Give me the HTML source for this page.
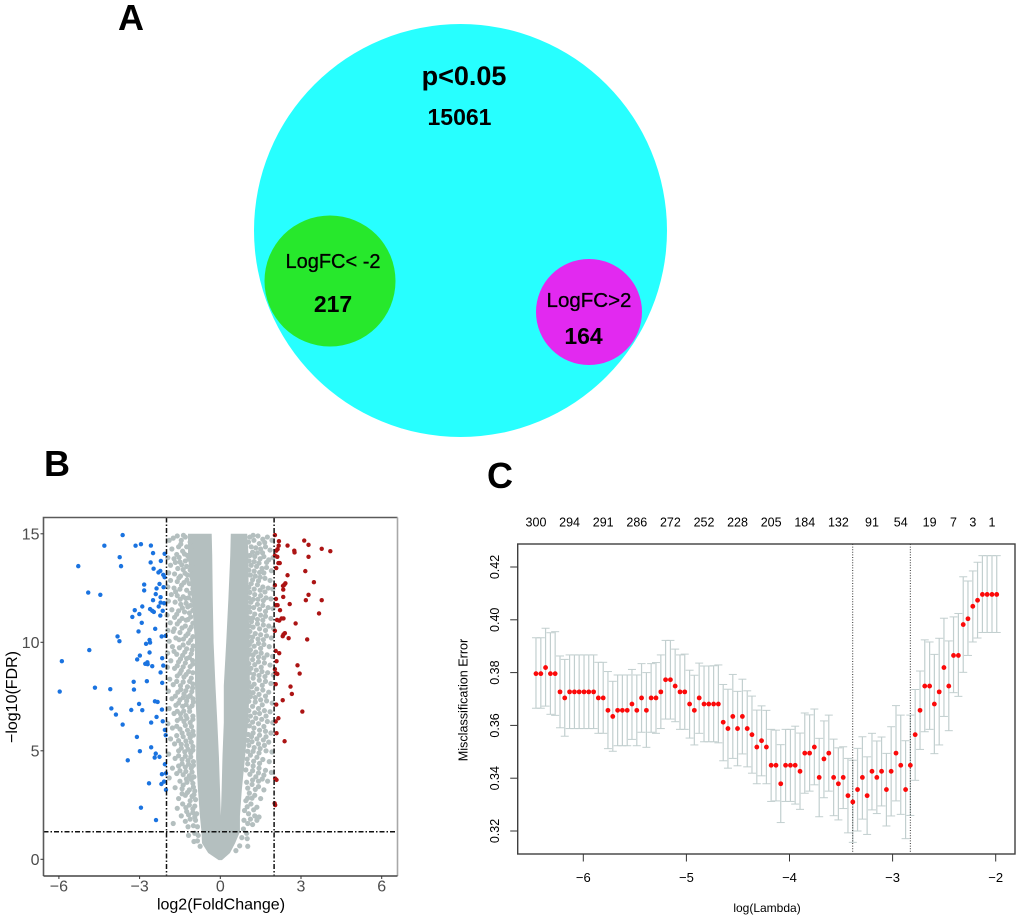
<!DOCTYPE html>
<html lang="en">
<head>
<meta charset="utf-8">
<title>Venn diagram, volcano plot and LASSO cross-validation</title>
<style>
html,body{margin:0;padding:0;background:#fff;width:1020px;height:919px;overflow:hidden}
svg{display:block;font-family:"Liberation Sans",Arial,sans-serif}
</style>
</head>
<body>
<svg id="figure" xmlns="http://www.w3.org/2000/svg" width="1020" height="919" viewBox="0 0 1020 919">
  <g id="panel-a">
    <text x="131" y="30" text-anchor="middle" font-size="36" font-weight="bold">A</text>
    <ellipse cx="460.5" cy="230.5" rx="206.5" ry="206.5" fill="#27ffff"/>
    <ellipse cx="330" cy="281" rx="65.5" ry="65.5" fill="#27e82c"/>
    <ellipse cx="589" cy="312" rx="53" ry="53" fill="#e229f0"/>
    <text x="464" y="85" text-anchor="middle" font-size="27" font-weight="bold">p&lt;0.05</text>
    <text x="459.5" y="125" text-anchor="middle" font-size="23" font-weight="bold">15061</text>
    <text x="333" y="268" text-anchor="middle" font-size="20" stroke="#000" stroke-width="0.3">LogFC&lt; -2</text>
    <text x="333" y="312" text-anchor="middle" font-size="23" font-weight="bold">217</text>
    <text x="589" y="307" text-anchor="middle" font-size="20.5" stroke="#000" stroke-width="0.3">LogFC&gt;2</text>
    <text x="583.5" y="344" text-anchor="middle" font-size="23" font-weight="bold">164</text>
  </g>
  <g id="panel-b">
    <text x="57" y="476" text-anchor="middle" font-size="36" font-weight="bold">B</text>
  </g>
  <g id="panel-c">
    <text x="500" y="488" text-anchor="middle" font-size="36" font-weight="bold">C</text>
  </g>
</svg>
<script>
/* ---------- Panel B data (log2 fold change, -log10 FDR) ---------- */
const volcanoXTicks = [-6, -3, 0, 3, 6];
const volcanoYTicks = [0, 5, 10, 15];
const fcCutoffs = [-2, 2];
const fdrCutoff = 1.27;
const cloudY = [15, 14, 12, 10, 8, 6.3, 4.7, 3.2, 2.0, 1.27, 0.74, 0.29, -0.04];
const cloudLeft = [-1.2, -1.2, -1.06, -0.94, -0.94, -0.88, -0.9, -0.83, -0.76, -0.7, -0.68, -0.45, -0.06];
const cloudRight = [1.0, 1.05, 1.05, 1.08, 1.1, 1.03, 0.92, 0.8, 0.73, 0.73, 0.55, 0.36, 0.06];
const gapY = [15, 14, 12, 10, 8, 6.3, 4.7, 3.2, 2.0];
const gapLeft = [-0.32, -0.3, -0.28, -0.25, -0.18, -0.11, -0.05, -0.01, 0.02];
const gapRight = [0.39, 0.37, 0.3, 0.22, 0.13, 0.13, 0.08, 0.05, 0.02];
const grayLeft = [[-1.9,14.7],[-1.75,14.8],[-1.6,14.9],[-1.45,14.7],[-1.3,14.85],[-1.25,14.4],[-1.55,14.4],[-1.8,14.3],[-1.4,14.2],[-1.62,14.05],[-1.22,14.0],[-1.95,13.9],[-1.72,13.85],[-1.5,13.7],[-1.3,13.75],[-1.85,13.55],[-1.58,13.4],[-1.38,13.35],[-1.25,13.5],[-1.92,13.2],[-1.7,13.15],[-1.48,13.05],[-1.22,13.1],[-1.85,12.85],[-1.6,12.8],[-1.35,12.75],[-1.15,12.7],[-1.95,12.55],[-1.72,12.5],[-1.5,12.45],[-1.25,12.4],[-1.82,12.2],[-1.6,12.15],[-1.38,12.1],[-1.18,12.05],[-1.93,11.9],[-1.68,11.85],[-1.47,11.75],[-1.27,11.8],[-1.1,11.7],[-1.8,11.5],[-1.55,11.45],[-1.33,11.4],[-1.15,11.35],[-1.98,11.25],[-1.7,11.15],[-1.42,11.1],[-1.2,11.05],[-1.86,10.9],[-1.6,10.85],[-1.3,10.75],[-1.08,10.7],[-1.95,10.55],[-1.75,10.5],[-1.5,10.45],[-1.2,10.4],[-1.65,10.2],[-1.37,10.15],[-1.1,10.1],[-1.9,10.05],[-1.78,9.8],[-1.52,9.75],[-1.25,9.7],[-1.05,9.65],[-1.96,9.5],[-1.62,9.45],[-1.4,9.4],[-1.15,9.3],[-1.84,9.15],[-1.55,9.1],[-1.3,9.05],[-1.02,9.0],[-1.97,8.85],[-1.7,8.8],[-1.45,8.7],[-1.18,8.65],[-1.6,8.45],[-1.35,8.4],[-1.08,8.35],[-1.88,8.3],[-1.75,8.05],[-1.48,8.0],[-1.22,7.95],[-1.03,7.9],[-1.93,7.75],[-1.58,7.7],[-1.35,7.62],[-1.12,7.55],[-1.8,7.4],[-1.5,7.35],[-1.25,7.3],[-1.0,7.25],[-1.65,7.1],[-1.4,7.05],[-1.14,6.98],[-1.9,6.95],[-1.72,6.72],[-1.48,6.7],[-1.28,6.62],[-1.02,6.6],[-1.6,6.4],[-1.35,6.35],[-1.12,6.3],[-1.95,6.25],[-1.78,6.05],[-1.5,6.0],[-1.22,5.95],[-1.02,5.9],[-1.62,5.7],[-1.38,5.65],[-1.12,5.6],[-1.85,5.55],[-1.7,5.32],[-1.45,5.3],[-1.25,5.25],[-1.02,5.2],[-1.55,5.0],[-1.32,4.95],[-1.1,4.9],[-1.92,4.85],[-1.68,4.65],[-1.42,4.6],[-1.2,4.55],[-1.0,4.5],[-1.55,4.3],[-1.3,4.25],[-1.08,4.2],[-1.78,4.2],[-1.62,3.95],[-1.38,3.9],[-1.15,3.85],[-0.98,3.8],[-1.9,3.75],[-1.5,3.6],[-1.24,3.55],[-1.02,3.5],[-1.42,3.25],[-1.15,3.2],[-0.95,3.15],[-1.68,3.3],[-1.3,2.95],[-1.05,2.9],[-1.55,2.8],[-0.92,2.75],[-1.4,2.55],[-1.15,2.5],[-0.95,2.45],[-1.6,2.35],[-1.25,2.2],[-1.02,2.15],[-0.88,2.1],[-1.45,2.0],[-1.12,1.85],[-0.92,1.8],[-1.3,1.75],[-1.75,1.65],[-1.0,1.55],[-0.85,1.5],[-1.2,1.5],[-0.95,1.2],[-0.82,1.1],[-1.18,1.1],[-0.85,0.85],[-0.75,0.6],[-0.98,0.82]];
const grayRight = [[1.1,14.85],[1.25,14.7],[1.4,14.9],[1.58,14.75],[1.75,14.85],[1.92,14.7],[1.15,14.4],[1.32,14.35],[1.5,14.3],[1.68,14.4],[1.85,14.25],[1.1,14.0],[1.28,13.95],[1.48,13.85],[1.62,13.95],[1.8,13.8],[1.96,13.9],[1.15,13.55],[1.35,13.5],[1.55,13.4],[1.72,13.45],[1.9,13.3],[1.12,13.1],[1.3,13.05],[1.48,13.0],[1.66,12.95],[1.85,12.85],[1.15,12.7],[1.38,12.65],[1.58,12.55],[1.78,12.5],[1.95,12.45],[1.1,12.3],[1.28,12.2],[1.5,12.15],[1.7,12.05],[1.88,12.0],[1.14,11.85],[1.38,11.75],[1.58,11.7],[1.78,11.6],[1.96,11.55],[1.1,11.4],[1.28,11.3],[1.5,11.25],[1.68,11.2],[1.88,11.1],[1.16,10.95],[1.38,10.85],[1.6,10.8],[1.8,10.75],[1.97,10.65],[1.1,10.5],[1.3,10.4],[1.5,10.35],[1.72,10.3],[1.9,10.2],[1.16,10.05],[1.42,9.95],[1.62,9.9],[1.82,9.8],[1.12,9.65],[1.32,9.55],[1.52,9.5],[1.74,9.42],[1.94,9.35],[1.2,9.2],[1.42,9.1],[1.64,9.05],[1.85,8.95],[1.14,8.8],[1.34,8.72],[1.55,8.65],[1.76,8.6],[1.97,8.5],[1.22,8.35],[1.45,8.25],[1.68,8.2],[1.88,8.1],[1.16,7.95],[1.36,7.85],[1.58,7.8],[1.8,7.7],[1.12,7.5],[1.3,7.45],[1.5,7.35],[1.72,7.3],[1.93,7.2],[1.2,7.05],[1.42,6.95],[1.64,6.85],[1.85,6.8],[1.12,6.6],[1.32,6.5],[1.54,6.45],[1.75,6.35],[1.95,6.3],[1.08,6.15],[1.25,6.05],[1.46,5.95],[1.68,5.9],[1.88,5.82],[1.16,5.65],[1.36,5.55],[1.6,5.5],[1.8,5.4],[1.06,5.25],[1.26,5.15],[1.48,5.1],[1.7,5.0],[1.92,4.95],[1.12,4.8],[1.36,4.7],[1.58,4.6],[1.82,4.5],[1.02,4.4],[1.22,4.3],[1.44,4.2],[1.68,4.1],[1.9,4.0],[1.1,3.92],[1.32,3.8],[1.56,3.7],[1.76,3.6],[0.98,3.55],[1.18,3.45],[1.42,3.35],[1.62,3.2],[1.08,3.05],[1.28,2.95],[1.5,2.8],[0.95,2.7],[1.14,2.55],[1.36,2.4],[0.9,2.25],[1.05,2.1],[1.28,2.0],[1.44,1.95],[0.88,1.8],[1.02,1.65],[1.2,1.6],[1.36,1.8],[0.86,1.4],[0.98,1.2],[1.0,0.95],[0.8,1.0],[0.72,0.62],[1.02,0.6],[0.58,0.4]];
const grayLeftInner = [[-1.37,14.93],[-1.12,14.62],[-1.47,14.52],[-1.08,14.28],[-1.33,14.07],[-1.53,13.91],[-1.17,13.83],[-1.02,13.62],[-1.43,13.57],[-1.67,13.68],[-1.12,13.33],[-1.31,13.18],[-1.06,13.02],[-1.54,12.97],[-1.24,12.87],[-1.44,12.63],[-1.02,12.47],[-1.66,12.33],[-1.12,12.26],[-1.28,12.02],[-1.49,11.98],[-1.04,11.93],[-1.21,11.63],[-1.41,11.58],[-1.02,11.47],[-1.62,11.29],[-1.1,11.17],[-1.27,11.02],[-1.52,10.98],[-1.02,10.88],[-1.42,10.66],[-1.14,10.58],[-1.71,10.62],[-1.28,10.3],[-1.02,10.26],[-1.53,10.12],[-1.18,9.97],[-1.38,9.88],[-1.01,9.83],[-1.72,9.58],[-1.32,9.55],[-1.08,9.47],[-1.25,9.25],[-1.48,9.23],[-1.03,9.16],[-1.12,8.88],[-1.38,8.87],[-1.6,8.92],[-1.02,8.6],[-1.27,8.52],[-1.5,8.57],[-1.14,8.2],[-1.38,8.17],[-1.62,8.2],[-1.02,8.08],[-1.28,7.77],[-1.47,7.82],[-1.06,7.73],[-1.67,7.52],[-1.2,7.48],[-1.38,7.46],[-1.02,7.4],[-1.55,7.2],[-1.27,7.13],[-1.05,7.08],[-1.36,6.83],[-1.14,6.82],[-1.6,6.82],[-1.02,6.45],[-1.24,6.5],[-1.47,6.5],[-1.07,6.12],[-1.3,6.17],[-1.62,6.13],[-1.17,5.77],[-1.42,5.82],[-1.0,5.72],[-1.28,5.45],[-1.55,5.47],[-1.08,5.4],[-1.2,5.07],[-1.45,5.12],[-1.02,5.03],[-1.3,4.75],[-1.1,4.72],[-1.55,4.77],[-1.18,4.38],[-1.42,4.4],[-1.0,4.33],[-1.28,4.05],[-1.05,4.02],[-1.5,4.08],[-1.26,3.7],[-1.08,3.68],[-1.38,3.42],[-1.0,3.33],[-1.22,3.08],[-0.98,2.98],[-1.42,3.02],[-1.12,2.7],[-1.02,2.32],[-1.28,2.38],[-0.95,1.95],[-1.18,2.05]];
const grayRightInner = [[1.22,14.93],[1.05,14.62],[1.45,14.55],[1.65,14.6],[1.2,14.15],[1.38,14.12],[1.57,14.12],[1.07,13.75],[1.26,13.72],[1.44,13.65],[1.72,13.68],[1.06,13.33],[1.26,13.28],[1.46,13.22],[1.62,13.2],[1.2,12.88],[1.42,12.83],[1.06,12.53],[1.26,12.45],[1.48,12.4],[1.66,12.32],[1.06,12.05],[1.22,11.98],[1.4,11.98],[1.6,11.92],[1.24,11.6],[1.46,11.52],[1.68,11.42],[1.08,11.62],[1.2,11.12],[1.38,11.05],[1.58,11.02],[1.06,11.12],[1.22,10.7],[1.46,10.62],[1.68,10.55],[1.08,10.75],[1.2,10.24],[1.4,10.15],[1.6,10.12],[1.06,10.27],[1.26,9.82],[1.5,9.72],[1.08,9.9],[1.22,9.42],[1.42,9.32],[1.62,9.28],[1.08,9.45],[1.28,8.97],[1.52,8.85],[1.06,9.02],[1.24,8.52],[1.44,8.47],[1.66,8.42],[1.08,8.6],[1.26,8.07],[1.56,8.02],[1.06,8.15],[1.22,7.68],[1.44,7.6],[1.68,7.52],[1.08,7.72],[1.3,7.25],[1.56,7.12],[1.06,7.28],[1.28,6.75],[1.46,6.72],[1.7,6.6],[1.06,6.85],[1.2,6.32],[1.42,6.25],[1.62,6.12],[1.02,6.4],[1.22,5.82],[1.46,5.72],[1.7,5.65],[1.04,5.75],[1.18,5.42],[1.42,5.32],[1.64,5.25],[1.02,5.48],[1.22,4.98],[1.44,4.9],[1.02,4.98],[1.24,4.52],[1.46,4.42],[1.0,4.62],[1.2,4.08],[1.42,3.98],[1.62,3.88],[0.95,4.12],[1.2,3.65],[1.42,3.6],[1.02,3.28],[1.3,3.22],[1.18,2.82],[1.02,2.82],[1.24,2.28],[1.0,2.42],[1.12,1.85]];
const downPoints = [[-3.63,14.94],[-4.31,14.45],[-3.15,14.45],[-2.95,14.52],[-2.58,14.46],[-2.5,14.11],[-2.07,14.08],[-3.74,13.92],[-3.69,13.51],[-5.28,13.51],[-2.59,13.68],[-2.21,13.75],[-2.48,13.39],[-2.3,13.22],[-2.23,13.29],[-2.12,13.11],[-2.07,13.0],[-2.83,12.66],[-2.26,12.69],[-2.11,12.54],[-2.83,12.39],[-2.37,12.48],[-2.4,12.22],[-4.91,12.29],[-4.46,12.19],[-2.5,11.94],[-2.22,12.08],[-2.22,11.83],[-2.09,11.8],[-2.9,11.65],[-2.29,11.65],[-3.18,11.48],[-2.61,11.53],[-2.53,11.45],[-2.47,11.4],[-2.14,11.45],[-3.27,11.17],[-3.01,11.3],[-2.23,11.23],[-2.92,10.9],[-2.42,10.62],[-3.04,10.5],[-3.82,10.27],[-3.75,10.05],[-2.18,10.27],[-2.03,10.3],[-2.63,10.11],[-2.61,9.99],[-2.76,9.93],[-4.87,9.64],[-2.63,9.53],[-2.99,9.39],[-3.09,9.21],[-2.16,9.27],[-5.89,9.13],[-2.71,9.08],[-2.79,9.01],[-2.7,8.99],[-2.53,8.9],[-2.12,8.93],[-2.22,8.61],[-2.73,8.21],[-3.22,8.18],[-2.16,8.13],[-4.66,7.91],[-4.09,7.84],[-3.21,7.82],[-5.97,7.73],[-2.43,7.28],[-2.33,7.25],[-3.02,7.16],[-4.05,6.95],[-3.31,6.88],[-2.9,6.87],[-2.17,6.9],[-3.88,6.67],[-2.37,6.56],[-2.57,6.3],[-2.14,6.36],[-3.63,6.21],[-2.06,5.96],[-3.1,5.64],[-2.03,5.72],[-2.57,5.16],[-2.99,4.98],[-2.4,4.87],[-2.44,4.69],[-2.26,4.72],[-3.44,4.56],[-2.06,4.38],[-2.17,3.92],[-2.02,3.96],[-2.65,3.5],[-2.19,3.47],[-2.09,3.58],[-2.02,3.2],[-2.95,2.38],[-2.39,1.81]];
const upPoints = [[2.03,14.94],[2.18,14.66],[2.17,14.45],[2.08,14.22],[2.13,14.29],[2.5,14.46],[2.75,14.22],[2.76,14.14],[3.12,14.69],[3.28,14.49],[3.77,14.31],[4.09,14.2],[3.28,13.94],[2.03,14.0],[2.12,13.94],[2.16,13.65],[2.21,13.65],[2.08,13.42],[3.16,13.28],[2.5,13.09],[3.48,12.77],[2.42,12.72],[2.33,12.6],[2.38,12.65],[2.03,12.63],[2.34,12.43],[3.28,12.19],[2.34,12.09],[2.07,12.0],[3.18,11.94],[3.77,11.94],[2.58,11.76],[2.07,11.71],[2.13,11.71],[2.22,11.48],[3.67,11.33],[2.11,11.03],[2.19,11.0],[2.28,11.1],[2.35,11.1],[2.8,10.87],[2.03,10.53],[2.4,10.42],[2.35,10.36],[2.32,10.28],[2.54,10.19],[3.23,10.13],[2.06,9.6],[2.19,9.5],[2.09,9.13],[2.87,8.94],[2.03,8.76],[2.06,8.58],[2.12,8.54],[2.95,8.56],[2.06,8.07],[2.61,7.96],[2.66,7.62],[2.32,7.33],[2.08,7.13],[3.05,6.81],[2.16,6.5],[2.06,6.35],[2.09,5.81],[2.39,5.44],[2.04,3.72],[2.09,3.66],[2.02,2.58],[2.04,2.5]];

/* ---------- Panel C data (log lambda, misclassification error) ---------- */
const cvXTicks = [-6, -5, -4, -3, -2];
const cvYTicks = [0.32, 0.34, 0.36, 0.38, 0.40, 0.42];
const logLambda = [-6.459,-6.412,-6.366,-6.319,-6.273,-6.226,-6.180,-6.133,-6.086,-6.040,-5.993,-5.947,-5.900,-5.854,-5.807,-5.761,-5.714,-5.667,-5.621,-5.574,-5.528,-5.481,-5.435,-5.388,-5.342,-5.295,-5.248,-5.202,-5.155,-5.109,-5.062,-5.016,-4.969,-4.923,-4.876,-4.829,-4.783,-4.736,-4.690,-4.643,-4.597,-4.550,-4.504,-4.457,-4.410,-4.364,-4.317,-4.271,-4.224,-4.178,-4.131,-4.085,-4.038,-3.991,-3.945,-3.898,-3.852,-3.805,-3.759,-3.712,-3.666,-3.619,-3.572,-3.526,-3.479,-3.433,-3.386,-3.340,-3.293,-3.247,-3.200,-3.153,-3.107,-3.060,-3.014,-2.967,-2.921,-2.874,-2.828,-2.781,-2.734,-2.688,-2.641,-2.595,-2.548,-2.502,-2.455,-2.409,-2.362,-2.315,-2.269,-2.222,-2.176,-2.129,-2.083,-2.036,-1.990];
const cvMean = [.3796,.3796,.3819,.3796,.3796,.3727,.3704,.3727,.3727,.3727,.3727,.3727,.3727,.3704,.3704,.3657,.3634,.3657,.3657,.3657,.3681,.3657,.3704,.3657,.3704,.3704,.3727,.3773,.3773,.3749,.3727,.3727,.3681,.3657,.3704,.3681,.3681,.3681,.3681,.3612,.3588,.3634,.3588,.3634,.3588,.3565,.3518,.3542,.3518,.3449,.3449,.3379,.3449,.3449,.3449,.3426,.3495,.3495,.3518,.3403,.3473,.3495,.3403,.3379,.3403,.3334,.3310,.3357,.3403,.3334,.3426,.3403,.3426,.3357,.3426,.3495,.3449,.3357,.3449,.3565,.3657,.3749,.3749,.3681,.3727,.3819,.3749,.3865,.3865,.3982,.4004,.4051,.4074,.4096,.4096,.4096,.4096];
const cvUpper = [.3932,.3932,.3968,.3951,.3955,.3863,.3850,.3867,.3867,.3867,.3867,.3867,.3867,.3839,.3839,.3804,.3767,.3791,.3791,.3791,.3812,.3791,.3834,.3800,.3834,.3838,.3867,.3922,.3922,.3889,.3867,.3870,.3809,.3790,.3836,.3825,.3825,.3826,.3829,.3755,.3737,.3793,.3729,.3775,.3731,.3711,.3658,.3674,.3657,.3585,.3582,.3527,.3585,.3585,.3597,.3571,.3647,.3640,.3662,.3551,.3617,.3639,.3548,.3515,.3519,.3475,.3468,.3513,.3557,.3481,.3570,.3541,.3556,.3494,.3595,.3675,.3639,.3542,.3639,.3736,.3806,.3924,.3916,.3869,.3930,.4006,.3920,.4011,.4024,.4163,.4147,.4185,.4218,.4243,.4243,.4243,.4243];
const cvLower = [.3665,.3665,.3673,.3642,.3638,.3591,.3559,.3588,.3588,.3588,.3588,.3588,.3588,.3570,.3570,.3512,.3502,.3523,.3523,.3523,.3547,.3523,.3574,.3517,.3574,.3570,.3588,.3624,.3624,.3614,.3585,.3585,.3552,.3526,.3570,.3538,.3538,.3538,.3534,.3466,.3438,.3475,.3447,.3492,.3443,.3419,.3379,.3409,.3379,.3312,.3314,.3232,.3312,.3312,.3302,.3282,.3343,.3351,.3375,.3254,.3326,.3351,.3258,.3242,.3285,.3193,.3157,.3200,.3245,.3187,.3280,.3266,.3295,.3219,.3257,.3314,.3263,.3171,.3259,.3392,.3509,.3576,.3585,.3493,.3526,.3634,.3580,.3724,.3710,.3801,.3865,.3916,.3931,.3952,.3952,.3952,.3952];
const lambdaMin = -3.387;
const lambda1se = -2.828;
const nzeroLabels = ['300','294','291','286','272','252','228','205','184','132','91','54','19','7','3','1'];
const nzeroIndex = [0,7,14,21,28,35,42,49,56,63,70,76,82,87,91,95];

/* ---------- axis functions ---------- */
const bx = v => 220.3 + 26.9 * v;
const by = v => 859.3 - 21.7 * v;
const cx = v => 995.7 + 103.1 * (v + 2);
const cy = v => 831 - (v - 0.32) * 2640;

const NS = 'http://www.w3.org/2000/svg';
function make(parent, tag, props, text) {
  const el = document.createElementNS(NS, tag);
  for (const k in props) el.setAttribute(k, props[k]);
  if (text !== undefined) el.textContent = text;
  parent.appendChild(el);
  return el;
}
const fmtTick = v => String(v).replace('-', '\u2212');

/* ---------- Panel B ---------- */
const pb = document.getElementById('panel-b');
const bFrame = {l: 43.5, r: 397.5, t: 517.5, b: 876};

const cloudPts = [];
cloudY.forEach((y, i) => cloudPts.push(bx(cloudLeft[i]) + ',' + by(y)));
for (let i = cloudY.length - 1; i >= 0; i--) cloudPts.push(bx(cloudRight[i]) + ',' + by(cloudY[i]));
gapY.forEach((y, i) => cloudPts.push(bx(gapRight[i]) + ',' + by(y)));
for (let i = gapY.length - 1; i >= 0; i--) cloudPts.push(bx(gapLeft[i]) + ',' + by(gapY[i]));
const cloud = make(pb, 'polygon', {points: cloudPts.join(' '), fill: '#b4bfbf', 'fill-rule': 'nonzero'});



grayLeft.concat(grayRight, grayLeftInner, grayRightInner).forEach(p => {
  const c = make(pb, 'circle', {cx: bx(p[0]), cy: by(p[1]), r: 2.6, fill: '#b4bfbf'});
  
  
});
downPoints.forEach(p => {
  const c = make(pb, 'circle', {cx: bx(p[0]), cy: by(p[1]), r: 2.2, fill: '#1a73e0'});
  
  
});
upPoints.forEach(p => {
  const c = make(pb, 'circle', {cx: bx(p[0]), cy: by(p[1]), r: 2.2, fill: '#ac1414'});
  
  
});
fcCutoffs.forEach(v => {
  const l = make(pb, 'line', {x1: bx(v), x2: bx(v), y1: bFrame.t, y2: bFrame.b, stroke: '#111', 'stroke-width': 1.5, 'stroke-dasharray': '5 2 1.5 2'});
  
  
});
const fdrLine = make(pb, 'line', {x1: bFrame.l, x2: bFrame.r, y1: by(fdrCutoff), y2: by(fdrCutoff), stroke: '#111', 'stroke-width': 1.5, 'stroke-dasharray': '5 2 1.5 2'});



const bBox = make(pb, 'path', {d: `M${bFrame.l} ${bFrame.b}V${bFrame.t}H${bFrame.r}`, fill: 'none', stroke: '#5a5a5a', 'stroke-width': 1.6});


const bBox2 = make(pb, 'line', {x1: bFrame.r, x2: bFrame.r, y1: bFrame.t, y2: bFrame.b, stroke: '#a8a8a8', 'stroke-width': 1.6});


const bBox3 = make(pb, 'line', {x1: bFrame.l, x2: bFrame.r, y1: bFrame.b, y2: bFrame.b, stroke: '#444', 'stroke-width': 1.6});



volcanoXTicks.forEach(v => {
  const t = make(pb, 'line', {x1: bx(v), x2: bx(v), y1: bFrame.b, y2: bFrame.b + 3, stroke: '#333', 'stroke-width': 1});
  
  
  const lb = make(pb, 'text', {x: bx(v), y: 891.5, 'text-anchor': 'middle', 'font-size': 16, fill: '#4d4d4d'}, fmtTick(v));
  
  
});
volcanoYTicks.forEach(v => {
  const t = make(pb, 'line', {x1: bFrame.l - 3, x2: bFrame.l, y1: by(v), y2: by(v), stroke: '#333', 'stroke-width': 1});
  
  
  const lb = make(pb, 'text', {x: 39.5, y: by(v) + 5.8, 'text-anchor': 'end', 'font-size': 16, fill: '#4d4d4d'}, fmtTick(v));
  
  
});
const bXTitle = make(pb, 'text', {x: 221, y: 909.5, 'text-anchor': 'middle', 'font-size': 16}, 'log2(FoldChange)');


const bYTitle = make(pb, 'text', {x: 17, y: 697, 'text-anchor': 'middle', 'font-size': 16, transform: 'rotate(-90 17 697)'}, '\u2212log10(FDR)');



/* ---------- Panel C ---------- */
const pc = document.getElementById('panel-c');
const cFrame = {l: 517.7, r: 1015, t: 544, b: 854};

logLambda.forEach((x, i) => {
  const px = cx(x);
  const bar = make(pc, 'line', {x1: px, x2: px, y1: cy(cvUpper[i]), y2: cy(cvLower[i]), stroke: '#c2cfcf', 'stroke-width': 1.2});
  
  
  const capU = make(pc, 'line', {x1: px - 4, x2: px + 4, y1: cy(cvUpper[i]), y2: cy(cvUpper[i]), stroke: '#c2cfcf', 'stroke-width': 1});
  
  
  const capL = make(pc, 'line', {x1: px - 4, x2: px + 4, y1: cy(cvLower[i]), y2: cy(cvLower[i]), stroke: '#c2cfcf', 'stroke-width': 1});
  
  
});
[lambdaMin, lambda1se].forEach(v => {
  const l = make(pc, 'line', {x1: cx(v), x2: cx(v), y1: cFrame.t, y2: cFrame.b - 2, stroke: '#333', 'stroke-width': 1, 'stroke-dasharray': '1 1.6'});
  
  
});
logLambda.forEach((x, i) => {
  const c = make(pc, 'circle', {cx: cx(x), cy: cy(cvMean[i]), r: 2.4, fill: '#fb0a0a'});
  
  
});
const cBox = make(pc, 'rect', {x: cFrame.l, y: cFrame.t, width: cFrame.r - cFrame.l, height: cFrame.b - cFrame.t, fill: 'none', stroke: '#3f3f3f', 'stroke-width': 1.4});


cvXTicks.forEach(v => {
  const t = make(pc, 'line', {x1: cx(v), x2: cx(v), y1: cFrame.b, y2: cFrame.b + 7.5, stroke: '#333', 'stroke-width': 1});
  
  
  const lb = make(pc, 'text', {x: cx(v), y: 882, 'text-anchor': 'middle', 'font-size': 13}, fmtTick(v));
  
  
});
cvYTicks.forEach(v => {
  const t = make(pc, 'line', {x1: cFrame.l - 7.5, x2: cFrame.l, y1: cy(v), y2: cy(v), stroke: '#333', 'stroke-width': 1});
  
  
  const ty = cy(v);
  const lb = make(pc, 'text', {x: 499, y: ty, 'text-anchor': 'middle', 'font-size': 12.5, transform: `rotate(-90 499 ${ty})`}, v.toFixed(2));
  
  
});
nzeroLabels.forEach((s, i) => {
  const lb = make(pc, 'text', {x: cx(logLambda[nzeroIndex[i]]), y: 526.5, 'text-anchor': 'middle', 'font-size': 12.5}, s);
  
  
});
const cXTitle = make(pc, 'text', {x: 767, y: 912, 'text-anchor': 'middle', 'font-size': 12}, 'log(Lambda)');


const cYTitle = make(pc, 'text', {x: 467.5, y: 700, 'text-anchor': 'middle', 'font-size': 12.6, transform: 'rotate(-90 467.5 700)'}, 'Misclassification Error');


</script>
</body>
</html>
